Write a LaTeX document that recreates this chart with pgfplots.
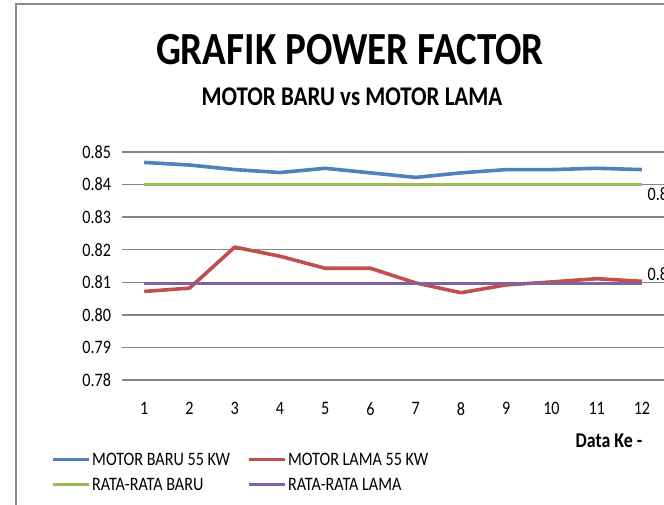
\documentclass[border=0pt]{standalone}
\usepackage{fontspec}
\setmainfont{Carlito}[FakeStretch=0.85]
\usepackage{pgfplots}
\pgfplotsset{compat=1.18}
\definecolor{cblue}{HTML}{4F81BD}
\definecolor{cred}{HTML}{C0504D}
\definecolor{cgreen}{HTML}{9BBB59}
\definecolor{cpurple}{HTML}{8064A2}
\begin{document}
\begin{tikzpicture}[x=1pt,y=1pt]
\useasboundingbox (0,0) rectangle (664,504);
\begin{scope}
\clip (0,0) rectangle (664,504);
\fill[white] (0,0) rectangle (664,504);
\draw[black!45, line width=1.2pt] (16,-5) -- (16,500) -- (700,500);
\node[font=\fontsize{46}{50}\selectfont\bfseries] at (350,454) {GRAFIK POWER FACTOR};
\node[font=\fontsize{27}{30}\selectfont\bfseries] at (352,407) {MOTOR BARU vs MOTOR LAMA};
\node[font=\fontsize{21}{22}\selectfont\bfseries] at (609,63) {Data Ke -};
\begin{axis}[
  scale only axis, width=543pt, height=228pt,
  at={(121.6pt,124pt)}, anchor=south west,
  xmin=0.5, xmax=12.5, ymin=0.78, ymax=0.85,
  xtick={1,2,3,4,5,6,7,8,9,10,11,12},
  ytick={0.78,0.79,0.80,0.81,0.82,0.83,0.84,0.85},
  ymajorgrids, grid style={black!48, line width=1.3pt},
  axis line style={draw=none}, major tick length=0pt,
  /pgf/number format/assume math mode=true,
  yticklabel style={xshift=-7pt, /pgf/number format/fixed, /pgf/number format/fixed zerofill, /pgf/number format/precision=2},
  tick label style={font=\fontsize{19}{20}\selectfont},
  xticklabel style={yshift=-19pt},
  clip=false,
  legend columns=2,
  legend cell align=left,
  legend image code/.code={\draw[#1, line width=3pt] (0pt,0pt) -- (36pt,0pt);},
  legend style={draw=none, fill=none, font=\fontsize{19}{20}\selectfont,
    at={(-0.1355,-0.302)}, anchor=north west,
    /tikz/every even column/.append style={column sep=15pt}, row sep=7pt},
  every axis plot/.append style={line width=3.6pt, line join=round},
]
\addplot[cblue] coordinates {(1,0.8468) (2,0.8460) (3,0.8446) (4,0.8437) (5,0.8450) (6,0.8436) (7,0.8422) (8,0.8436) (9,0.8446) (10,0.8446) (11,0.8450) (12,0.8446)};
\addlegendentry{MOTOR BARU 55 KW}
\addplot[cred] coordinates {(1,0.8072) (2,0.8082) (3,0.8208) (4,0.8180) (5,0.8143) (6,0.8143) (7,0.8098) (8,0.8068) (9,0.8092) (10,0.8101) (11,0.8111) (12,0.8103)};
\addlegendentry{MOTOR LAMA 55 KW}
\addplot[cgreen] coordinates {(1,0.8400) (12,0.8400)};
\addlegendentry{RATA-RATA BARU}
\addplot[cpurple] coordinates {(1,0.8096) (12,0.8096)};
\addlegendentry{RATA-RATA LAMA}
\node[anchor=north west, font=\fontsize{19}{20}\selectfont, inner sep=1pt] at (axis cs:12.1,0.8395) {0.840};
\node[anchor=south west, font=\fontsize{19}{20}\selectfont, inner sep=1pt] at (axis cs:12.1,0.8100) {0.810};
\end{axis}
\end{scope}
\end{tikzpicture}
\end{document}
